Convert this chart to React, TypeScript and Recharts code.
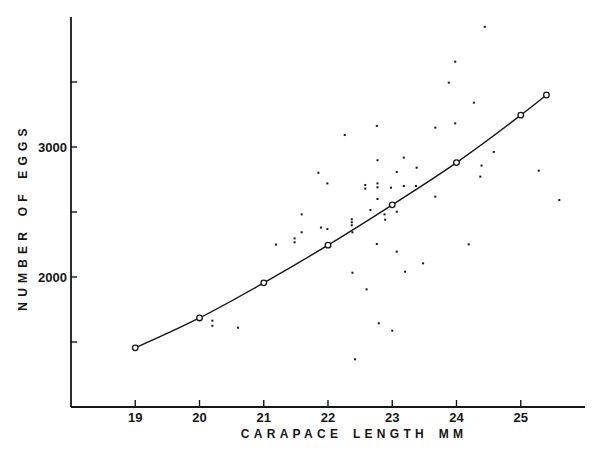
import { ComposedChart, Line, Scatter, XAxis, YAxis, Label } from "recharts"

// fitted curve (open circles)
const fitLength = [19, 20, 21, 22, 23, 24, 25, 25.4]
const fitEggs = [1455, 1685, 1955, 2245, 2555, 2880, 3245, 3400]

// individual females (dots)
const sampleLength = [
  24.44, 23.98, 23.88, 24.27, 22.76, 22.26, 23.67, 23.98, 24.58, 24.39, 24.37, 25.28,
  21.85, 21.99, 22.77, 23.18, 23.38, 23.07, 22.58, 22.58, 22.77, 22.77, 22.98, 23.18,
  23.37, 22.77, 23.67, 25.6, 22.66, 22.88, 23.07, 22.89, 21.59, 21.59, 21.89, 21.99,
  22.37, 22.37, 22.37, 22.38, 22.76, 23.07, 24.19, 23.48, 23.2, 22.38, 22.6, 22.79,
  23.0, 22.42, 21.19, 21.48, 21.48, 20.2, 20.2, 20.6,
]
const sampleEggs = [
  3925, 3656, 3495, 3341, 3162, 3092, 3149, 3182, 2962, 2857, 2772, 2818,
  2802, 2720, 2898, 2918, 2841, 2808, 2708, 2680, 2720, 2690, 2687, 2700,
  2700, 2600, 2618, 2592, 2515, 2482, 2502, 2441, 2482, 2344, 2380, 2369,
  2444, 2421, 2398, 2344, 2254, 2195, 2251, 2105, 2041, 2033, 1905, 1644,
  1587, 1367, 2249, 2297, 2267, 1664, 1625, 1610,
]

const xTicks = [19, 20, 21, 22, 23, 24, 25]
const yTicks = [1500, 2000, 2500, 3000, 3500]
const yLabelled = [2000, 3000]

const INK = "#161616"
const FONT = "'Liberation Sans', Arial, sans-serif"

const fitRows = fitLength.map((l, i) => ({ length: l, eggs: fitEggs[i] }))
const sampleRows = sampleLength.map((l, i) => ({ length: l, eggs: sampleEggs[i] }))

function Dot(props: any) {
  const { cx, cy } = props
  if (cx == null || cy == null) return null
  return <rect x={cx - 1} y={cy - 1} width={2} height={2} fill={INK} />
}

export default function App() {
  return (
    <div style={{ position: "absolute", left: 0, top: 0, background: "#fff" }}>
      <style>{`body{margin:0}`}</style>
      <ComposedChart
        width={600}
        height={452}
        margin={{ top: 17, right: 15, left: 0, bottom: 0 }}
      >
        <XAxis
          type="number"
          dataKey="length"
          domain={[18, 26]}
          ticks={xTicks}
          allowDataOverflow
          height={45}
          axisLine={{ stroke: INK, strokeWidth: 1.8 }}
          tickLine={{ stroke: INK, strokeWidth: 1.4 }}
          tickSize={-7}
          tickMargin={13}
          tick={{ fill: INK, fontSize: 13, fontWeight: 700, fontFamily: FONT }}
        >
          <Label
            content={(p: any) => {
              const vb = p.viewBox || { x: 71, y: 407, width: 514 }
              return (
                <text
                  x={vb.x + vb.width / 2 + 26}
                  y={vb.y + 31}
                  textAnchor="middle"
                  fill={INK}
                  fontSize={12}
                  fontWeight={700}
                  fontFamily={FONT}
                  style={{ letterSpacing: "4.3px", wordSpacing: "3px" }}
                >
                  CARAPACE LENGTH MM
                </text>
              )
            }}
          />
        </XAxis>
        <YAxis
          type="number"
          dataKey="eggs"
          domain={[1000, 4000]}
          ticks={yTicks}
          allowDataOverflow
          width={71}
          axisLine={{ stroke: INK, strokeWidth: 1.8 }}
          tickLine={{ stroke: INK, strokeWidth: 1.4 }}
          tickSize={-6}
          tickMargin={10}
          tickFormatter={(v: number) => (yLabelled.includes(v) ? String(v) : "")}
          tick={{ fill: INK, fontSize: 13, fontWeight: 700, fontFamily: FONT }}
        >
          <Label
            content={(p: any) => {
              const vb = p.viewBox || { x: 0, y: 17, height: 390 }
              const cy = vb.y + vb.height / 2 + 5
              return (
                <text
                  x={23}
                  y={cy}
                  transform={`rotate(-90 23 ${cy})`}
                  textAnchor="middle"
                  dominantBaseline="central"
                  fill={INK}
                  fontSize={12}
                  fontWeight={700}
                  fontFamily={FONT}
                  style={{ letterSpacing: "5.2px", wordSpacing: "2px" }}
                >
                  NUMBER OF EGGS
                </text>
              )
            }}
          />
        </YAxis>
        <Scatter
          data={sampleRows}
          dataKey="eggs"
          shape={<Dot />}
          isAnimationActive={false}
        />
        <Line
          data={fitRows}
          dataKey="eggs"
          type="monotone"
          stroke={INK}
          strokeWidth={1.4}
          dot={{ r: 2.8, stroke: INK, strokeWidth: 1.3, fill: "#fff" }}
          activeDot={false}
          isAnimationActive={false}
        />
      </ComposedChart>
    </div>
  )
}
